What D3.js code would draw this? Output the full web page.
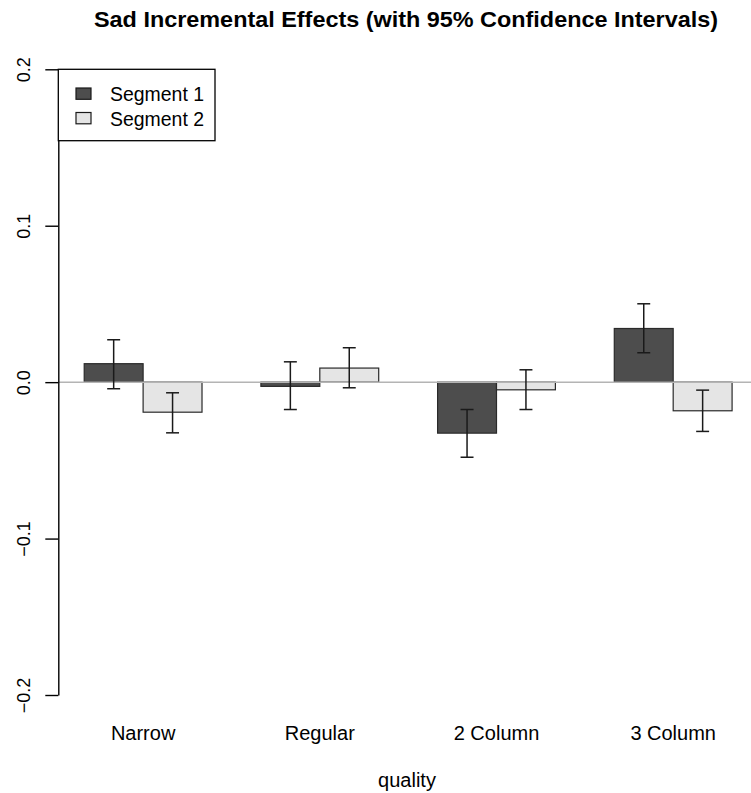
<!DOCTYPE html>
<html>
<head>
<meta charset="utf-8">
<script src="https://cdn.jsdelivr.net/npm/d3@7"></script>
<style>
  html, body { margin: 0; padding: 0; background: #fff; }
  svg { display: block; font-family: "Liberation Sans", Arial, Helvetica, sans-serif; }
</style>
</head>
<body>
<svg id="chart" width="751" height="793"></svg>
<script>
// ---- data ----
const categories = ["Narrow", "Regular", "2 Column", "3 Column"];
const seriesNames = ["Segment 1", "Segment 2"];
const segment1 = [0.0118, -0.0027, -0.0326, 0.0343];
const segment2 = [-0.0192, 0.0090, -0.0049, -0.0183];
const lower1 = [-0.0042, -0.0175, -0.0480, 0.0188];
const upper1 = [0.0271, 0.0130, -0.0175, 0.0501];
const lower2 = [-0.0324, -0.0036, -0.0175, -0.0315];
const upper2 = [-0.0068, 0.0220, 0.0079, -0.0051];
const yTicks = [-0.2, -0.1, 0.0, 0.1, 0.2];
const yTickLabels = ["\u22120.2", "\u22120.1", "0.0", "0.1", "0.2"];
const titleText = "Sad Incremental Effects (with 95% Confidence Intervals)";
const xAxisTitle = "quality";

const colors = ["#4d4d4d", "#e5e5e5"];

const svg = d3.select("#chart");

// scales (x in bar-width units, R barplot style: space = c(0,1))
const x = d3.scaleLinear().domain([0.56, 12.44]).range([58.3, 758]);
const y = d3.scaleLinear().domain([-0.2, 0.2]).range([695, 69.3]);

const values = [segment1, segment2];
const lows = [lower1, lower2];
const highs = [upper1, upper2];

const bars = [];
categories.forEach((c, i) => {
  [0, 1].forEach(j => {
    const start = 1 + 3 * i + j;
    bars.push({cat: c, s: j, start, v: values[j][i], lo: lows[j][i], hi: highs[j][i]});
  });
});

// bars
svg.append("g").selectAll("rect").data(bars).join("rect")
  .attr("x", d => x(d.start))
  .attr("width", d => x(d.start + 1) - x(d.start))
  .attr("y", d => y(Math.max(0, d.v)))
  .attr("height", d => Math.abs(y(d.v) - y(0)))
  .attr("fill", d => colors[d.s])
  .attr("stroke", "#2a2a2a")
  .attr("stroke-width", 1.2);

// zero line
svg.append("line")
  .attr("x1", x(0.56)).attr("x2", 751)
  .attr("y1", y(0)).attr("y2", y(0))
  .attr("stroke", "#b4b4b4").attr("stroke-width", 1.5);

// error bars
const eb = svg.append("g").attr("stroke", "#1a1a1a").attr("stroke-width", 1.5).attr("fill", "none");
bars.forEach(d => {
  const cx = x(d.start + 0.5);
  const cw = (x(1.11) - x(1)) ;
  eb.append("line").attr("x1", cx).attr("x2", cx).attr("y1", y(d.lo)).attr("y2", y(d.hi));
  eb.append("line").attr("x1", cx - cw).attr("x2", cx + cw).attr("y1", y(d.lo)).attr("y2", y(d.lo));
  eb.append("line").attr("x1", cx - cw).attr("x2", cx + cw).attr("y1", y(d.hi)).attr("y2", y(d.hi));
});

// y axis
const yAxis = d3.axisLeft(y).tickValues(yTicks).tickSize(13).tickSizeOuter(0)
  .tickFormat((d, i) => yTickLabels[i]);
const ag = svg.append("g").attr("transform", `translate(${x(0.56)},0)`).call(yAxis);
ag.select(".domain").attr("stroke", "#000").attr("stroke-width", 1.4);
ag.selectAll(".tick line").attr("stroke", "#000").attr("stroke-width", 1.4);
ag.selectAll(".tick text")
  .attr("transform", "rotate(-90)")
  .attr("x", 0).attr("y", -28.3).attr("dy", 0)
  .attr("text-anchor", "middle")
  .attr("font-size", 18)
  .attr("font-family", "Liberation Sans, Arial, sans-serif")
  .attr("fill", "#000");

// x category labels
svg.append("g").selectAll("text").data(categories).join("text")
  .attr("x", (d, i) => x(1 + 3 * i + 1))
  .attr("y", 740)
  .attr("text-anchor", "middle")
  .attr("font-size", 20)
  .attr("fill", "#000")
  .text(d => d);

// x axis title
svg.append("text")
  .attr("x", 407).attr("y", 787)
  .attr("text-anchor", "middle")
  .attr("font-size", 20)
  .attr("fill", "#000")
  .text(xAxisTitle);

// title
svg.append("text")
  .attr("x", 406).attr("y", 26.5)
  .attr("text-anchor", "middle")
  .attr("font-size", 22.5)
  .attr("font-weight", "bold")
  .attr("textLength", 624)
  .attr("lengthAdjust", "spacingAndGlyphs")
  .attr("fill", "#000")
  .text(titleText);

// legend
const lg = svg.append("g");
lg.append("rect")
  .attr("x", x(0.56)).attr("y", y(0.2))
  .attr("width", 215 - x(0.56)).attr("height", 140.7 - y(0.2))
  .attr("fill", "#fff").attr("stroke", "#000").attr("stroke-width", 1.3);
seriesNames.forEach((name, j) => {
  const yy = 88 + j * 24.5;
  lg.append("rect")
    .attr("x", 76).attr("y", yy).attr("width", 15).attr("height", 11.3)
    .attr("fill", colors[j]).attr("stroke", "#1a1a1a").attr("stroke-width", 1.2);
  lg.append("text")
    .attr("x", 110).attr("y", yy + 13)
    .attr("font-size", 20)
    .attr("textLength", 94)
    .attr("lengthAdjust", "spacingAndGlyphs")
    .attr("fill", "#000")
    .text(name);
});
</script>
</body>
</html>
